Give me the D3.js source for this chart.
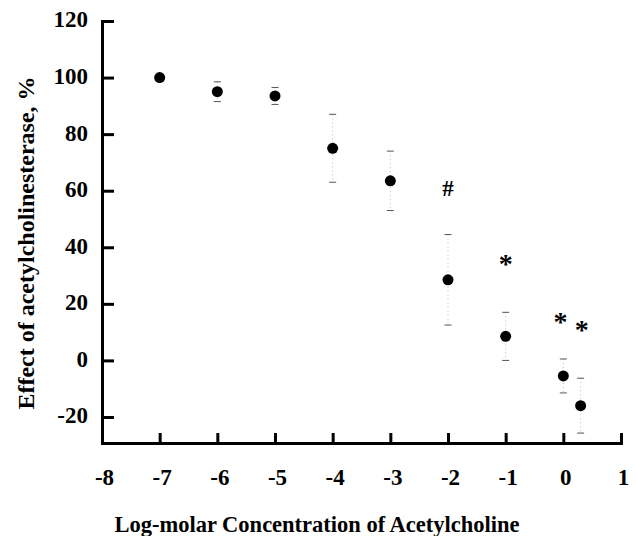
<!DOCTYPE html>
<html>
<head>
<meta charset="utf-8">
<script src="https://cdn.jsdelivr.net/npm/d3@7"></script>
<style>
  html, body { margin: 0; padding: 0; background: #fff; }
  svg { display: block; }
  text { font-family: "Liberation Serif", "Times New Roman", serif; font-weight: bold; fill: #000; }
</style>
</head>
<body>
<div id="chart"></div>
<script>
// log-molar concentration of acetylcholine
const logConc = [-7, -6, -5, -4, -3, -2, -1, 0, 0.3];
// effect on acetylcholinesterase, %
const effect = [100, 95, 93.5, 75, 63.5, 28.5, 8.5, -5.5, -16];
// error (half height of bar)
const errors = [0, 3.5, 3, 12, 10.5, 16, 8.5, 6, 9.7];

// significance marks
const markText = ['#', '*', '*', '*'];
const markX = [-2, -1, -0.05, 0.32];
const markY = [61, 35.5, 15, 12];

const xTicks = [-8, -7, -6, -5, -4, -3, -2, -1, 0, 1];
const yTicks = [-20, 0, 20, 40, 60, 80, 100, 120];

const width = 636, height = 536;

const svg = d3.select('#chart')
    .append('svg')
    .attr('width', width)
    .attr('height', height);

const x = d3.scaleLinear().domain([-8, 1]).range([102, 621]);
const y = d3.scaleLinear().domain([-29.2, 120]).range([443, 21]);

// Axes
const xAxis = d3.axisBottom(x)
    .tickValues(xTicks)
    .tickFormat(d => String(d))
    .tickSizeInner(-10)
    .tickSizeOuter(0)
    .tickPadding(26);

const yAxis = d3.axisLeft(y)
    .tickValues(yTicks)
    .tickFormat(d => String(d))
    .tickSizeInner(-12)
    .tickSizeOuter(0)
    .tickPadding(14);

const gx = svg.append('g')
    .attr('transform', `translate(0,${y.range()[0]})`)
    .call(xAxis);

const gy = svg.append('g')
    .attr('transform', `translate(${x.range()[0]},0)`)
    .call(yAxis);

[gx, gy].forEach(g => {
    g.attr('font-size', null).attr('font-family', null);
    g.select('.domain').attr('stroke', '#000').attr('stroke-width', 3).attr('stroke-linecap', 'square');
    g.selectAll('.tick line').attr('stroke', '#000').attr('stroke-width', 3);
    g.selectAll('.tick text')
        .attr('font-size', 23)
        .attr('font-weight', 'bold')
        .attr('fill', '#000');
});
gy.selectAll('.tick text').attr('dy', '0.26em');
gx.selectAll('.tick text').attr('dx', 2);

// sanity check on label size (draws a red block only if fonts came out wrong)
const probe = gy.select('.tick text').node().getBBox();
if (probe.width < 30) {
    svg.append('rect').attr('x', 500).attr('y', 10).attr('width', 100).attr('height', 40).attr('fill', 'red');
}

// Error bars
const bars = svg.append('g');
logConc.forEach((c, i) => {
    if (!errors[i]) return;
    const cx = x(c);
    const top = y(effect[i] + errors[i]);
    const bot = y(effect[i] - errors[i]);
    bars.append('line')
        .attr('x1', cx).attr('x2', cx)
        .attr('y1', top).attr('y2', bot)
        .attr('stroke', '#bbb')
        .attr('stroke-width', 1)
        .attr('stroke-dasharray', '1,3');
    [top, bot].forEach(yy => {
        bars.append('line')
            .attr('x1', cx - 3.5).attr('x2', cx + 3.5)
            .attr('y1', yy).attr('y2', yy)
            .attr('stroke', '#555')
            .attr('stroke-width', 1);
    });
});

// Points
svg.append('g')
    .selectAll('circle')
    .data(logConc)
    .join('circle')
    .attr('cx', d => x(d))
    .attr('cy', (d, i) => y(effect[i]))
    .attr('r', 5.5)
    .attr('fill', '#000');

// Significance marks
svg.append('g')
    .selectAll('text')
    .data(markText)
    .join('text')
    .attr('x', (d, i) => x(markX[i]))
    .attr('y', (d, i) => y(markY[i]) + (d === '#' ? 8 : 13))
    .attr('text-anchor', 'middle')
    .attr('font-size', d => d === '#' ? 23 : 28)
    .text(d => d);

// Axis titles
svg.append('text')
    .attr('x', 317)
    .attr('y', 532)
    .attr('text-anchor', 'middle')
    .attr('font-size', 22.5)
    .text('Log-molar Concentration of Acetylcholine');

svg.append('text')
    .attr('transform', 'translate(34,243) rotate(-90)')
    .attr('text-anchor', 'middle')
    .attr('font-size', 24)
    .text('Effect of acetylcholinesterase, %');
</script>
</body>
</html>
